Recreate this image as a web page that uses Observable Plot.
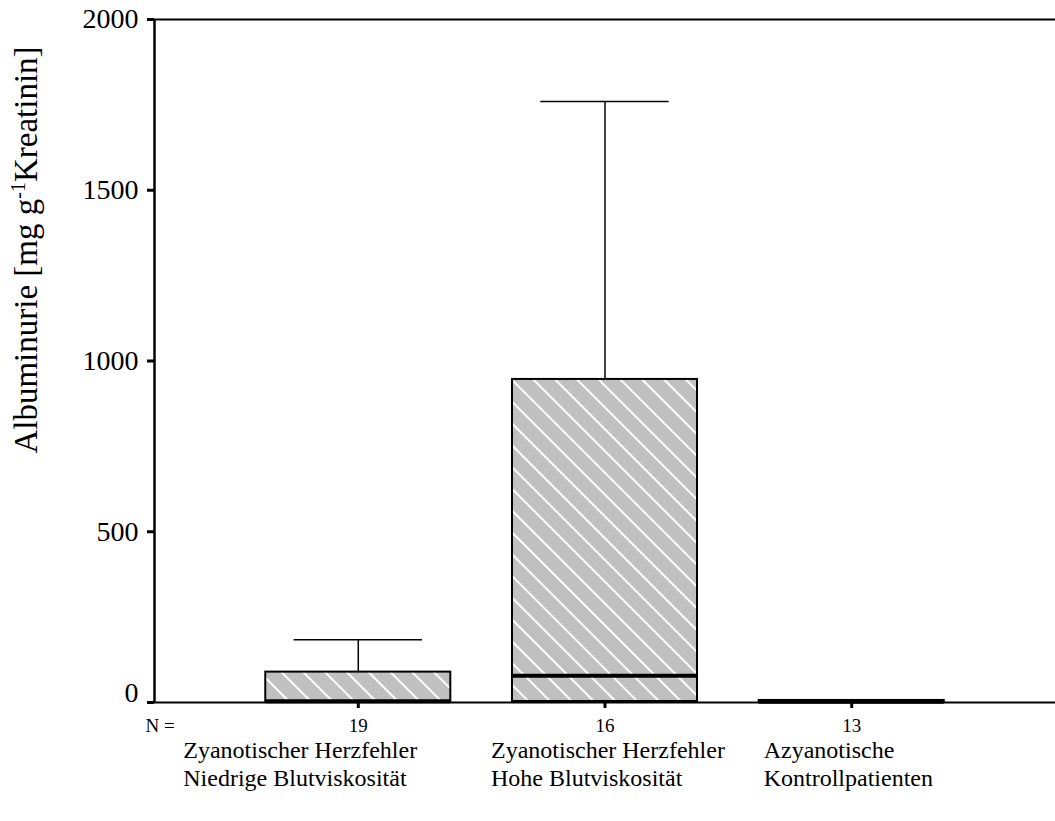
<!DOCTYPE html>
<html>
<head>
<meta charset="utf-8">
<script src="https://cdn.jsdelivr.net/npm/d3@7"></script>
<script src="https://cdn.jsdelivr.net/npm/@observablehq/plot@0.6"></script>
<style>
  body { margin: 0; background: #fff; }
  svg { display: block; }
</style>
</head>
<body>
<div id="chart"></div>
<script>
// Albuminuria by patient group (box plot summary statistics, mg/g creatinine)
const groups = [
  "Zyanotischer Herzfehler\nNiedrige Blutviskosität",
  "Zyanotischer Herzfehler\nHohe Blutviskosität",
  "Azyanotische\nKontrollpatienten"
];
const counts = [19, 16, 13];
const whiskerLow = [0, 0, 0];
const q1 = [1, 3, 0];
const medians = [4, 78, 2];
const q3 = [89, 946, 6];
const whiskerHigh = [184, 1760, 8];
const yTicks = [0, 500, 1000, 1500, 2000];

const stats = groups.map((g, k) => ({
  pos: k + 1, group: g, n: counts[k],
  lo: whiskerLow[k], q1: q1[k], median: medians[k], q3: q3[k], hi: whiskerHigh[k]
}));

const pad = 0.826;               // space on either side of the outer groups (in group units)
const xDomain = [1 - pad, groups.length + pad];
const boxHalf = 0.375;
const capHalf = 0.26;
const serif = "'Liberation Serif', 'Times New Roman', serif";

// diagonal white hatching on grey used for the boxes
function hatchDefs() {
  const defs = d3.create("svg:defs");
  const p = defs.append("pattern")
    .attr("id", "hatch")
    .attr("patternUnits", "userSpaceOnUse")
    .attr("width", 15.4).attr("height", 15.4)
    .attr("patternTransform", "rotate(-45)");
  p.append("rect").attr("width", 15.4).attr("height", 15.4).attr("fill", "#c0c0c0");
  p.append("rect").attr("x", 0).attr("width", 2).attr("height", 15.4).attr("fill", "#ffffff");
  return defs.node();
}

// rotated y-axis title with a superscript exponent
function yTitle(index, scales, values, dims) {
  const t = d3.create("svg:text")
    .attr("transform", `translate(${dims.marginLeft - 117},${dims.marginTop + 231}) rotate(-90)`)
    .attr("text-anchor", "middle")
    .attr("font-family", serif)
    .attr("font-size", 33)
    .attr("fill", "black");
  t.append("tspan").text("Albuminurie [mg g");
  t.append("tspan").attr("dy", -12).attr("font-size", 20).text("-1");
  t.append("tspan").attr("dy", 12).text("Kreatinin]");
  return t.node();
}

// horizontal shift of each two-line group label relative to its box centre
const labelShift = [-175, -114, -88];

const chart = Plot.plot({
  width: 1055,
  height: 821,
  marginTop: 19,
  marginBottom: 119,
  marginLeft: 154,
  marginRight: 0,
  style: { fontFamily: serif, color: "black", background: "white" },
  x: { type: "linear", domain: xDomain },
  y: { domain: [0, 2000] },
  marks: [
    hatchDefs,
    // lower and upper whiskers
    Plot.ruleX(stats, { x: "pos", y1: "lo", y2: "q1", stroke: "black", strokeWidth: 1.5 }),
    Plot.ruleX(stats, { x: "pos", y1: "q3", y2: "hi", stroke: "black", strokeWidth: 1.5 }),
    Plot.ruleY(stats, { y: "hi", x1: d => d.pos - capHalf, x2: d => d.pos + capHalf, stroke: "black", strokeWidth: 1.5 }),
    // boxes
    Plot.rectY(stats, {
      x1: d => d.pos - boxHalf, x2: d => d.pos + boxHalf,
      y1: "q1", y2: "q3",
      fill: "url(#hatch)", stroke: "black", strokeWidth: 2
    }),
    // medians
    Plot.ruleY(stats, { y: "median", x1: d => d.pos - boxHalf, x2: d => d.pos + boxHalf, stroke: "black", strokeWidth: 4 }),
    // frame lines
    Plot.ruleY([0, 2000], { stroke: "black", strokeWidth: 2 }),
    Plot.ruleX([xDomain[0]], { stroke: "black", strokeWidth: 2.5 }),
    // y axis; the zero label is drawn separately, slightly above its tick
    Plot.axisY({
      ticks: yTicks, tickSize: 7, tickPadding: 9, strokeWidth: 3,
      fontSize: 28, fontFamily: serif, label: null,
      tickFormat: d => (d === 0 ? "" : String(d))
    }),
    Plot.text(yTicks.filter(d => d === 0), {
      y: d => d, text: d => String(d), frameAnchor: "left",
      textAnchor: "end", dx: -16, dy: -9, fontSize: 28, fontFamily: serif
    }),
    // x axis: group sizes
    Plot.axisX({
      ticks: stats.map(d => d.pos), tickSize: 6, tickPadding: 10, strokeWidth: 3,
      fontSize: 19, fontFamily: serif, label: null, tickFormat: d => String(counts[d - 1])
    }),
    Plot.text(["N ="], {
      frameAnchor: "bottom-left", textAnchor: "start", lineAnchor: "top",
      dx: -9, dy: 16, fontSize: 19, fontFamily: serif
    }),
    // group labels
    ...stats.map((s, k) => Plot.text([s], {
      x: "pos", text: "group", frameAnchor: "bottom",
      textAnchor: "start", lineAnchor: "top", lineHeight: 1.16,
      dx: labelShift[k], dy: 36, fontSize: 24, fontFamily: serif
    })),
    yTitle
  ]
});

document.getElementById("chart").appendChild(chart);
</script>
</body>
</html>
